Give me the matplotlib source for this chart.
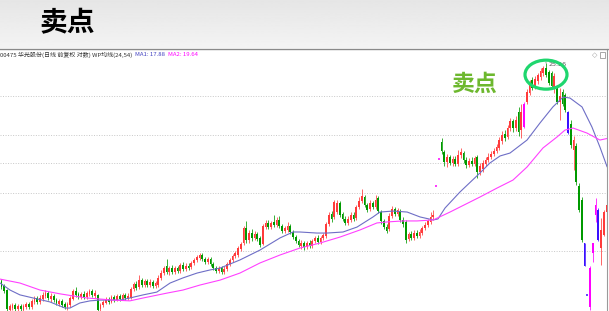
import numpy as np
import matplotlib
matplotlib.use('Agg')
import matplotlib.pyplot as plt
from matplotlib.patches import Ellipse, Rectangle

plt.rcParams['font.family'] = ['Noto Sans CJK SC', 'DejaVu Sans']

# daily OHLC (前复权), one value per trading day
opens = [
    12.21, 12.01, 11.85, 11.09, 11.16, 11.27, 11.13, 11.24, 11.09, 11.20,
    11.31, 11.20, 11.39, 11.54, 11.39, 11.50, 11.62, 11.73, 11.50, 11.62,
    11.46, 11.31, 11.43, 11.31, 11.20, 11.27, 11.50, 11.81, 11.70, 11.58,
    11.70, 11.58, 11.70, 11.81, 11.62, 11.66, 11.13, 11.27, 11.35, 11.50,
    11.39, 11.58, 11.46, 11.62, 11.50, 11.66, 11.54, 11.54, 11.89, 12.09,
    11.97, 12.25, 12.05, 12.21, 12.05, 12.17, 12.01, 12.05, 12.34, 12.54,
    12.84, 12.59, 12.75, 12.59, 12.75, 12.63, 12.88, 12.71, 12.84, 12.80,
    12.97, 13.10, 13.19, 13.32, 13.14, 13.01, 13.14, 12.93, 12.75, 12.63,
    12.75, 12.59, 12.71, 12.93, 13.10, 13.28, 13.32, 13.59, 13.86, 14.58,
    14.00, 14.33, 14.10, 14.29, 14.10, 13.82, 14.62, 14.82, 14.62, 14.87,
    14.72, 14.97, 14.67, 14.43, 14.48, 14.67, 14.38, 14.14, 13.95, 13.72,
    13.86, 13.68, 13.86, 13.72, 13.95, 14.10, 13.91, 14.10, 14.19, 14.77,
    15.27, 15.12, 15.37, 15.84, 15.27, 15.02, 14.82, 14.97, 15.22, 15.07,
    15.63, 15.95, 16.16, 15.74, 15.52, 15.84, 15.63, 16.11, 15.37, 14.92,
    14.62, 14.53, 15.17, 15.52, 15.27, 15.42, 14.97, 14.87, 14.05, 14.29,
    14.10, 14.33, 14.19, 14.33, 14.58, 14.72, 14.87, 15.12, 16.76, 18.34,
    19.41, 18.78, 18.16, 18.47, 18.10, 18.34, 18.04, 18.59, 18.71, 18.28,
    17.98, 18.22, 18.04, 18.47, 17.57, 17.74, 18.04, 18.28, 18.47, 18.65,
    18.84, 19.03, 19.48, 19.93, 19.74, 20.34, 20.82, 20.34, 21.45, 20.20,
    20.41, 22.18, 22.86, 23.87, 23.32, 23.79, 24.11, 24.43, 24.85, 24.52,
    24.43, 23.24, 23.24, 22.18, 22.93, 22.70, 21.45, 20.61, 18.90, 19.16,
    16.76, 16.00, 13.86, 11.66, 11.20, 13.41, 15.22, 15.47, 13.63, 14.24,
    15.37,
]
closes = [
    11.97, 11.81, 11.13, 11.24, 11.27, 11.13, 11.24, 11.13, 11.24, 11.31,
    11.20, 11.43, 11.54, 11.39, 11.54, 11.66, 11.73, 11.54, 11.62, 11.46,
    11.35, 11.43, 11.27, 11.20, 11.31, 11.54, 11.81, 11.66, 11.58, 11.70,
    11.58, 11.73, 11.81, 11.66, 11.73, 11.09, 11.27, 11.39, 11.50, 11.39,
    11.58, 11.46, 11.62, 11.50, 11.66, 11.54, 11.62, 11.89, 12.09, 11.93,
    12.25, 12.05, 12.21, 12.05, 12.17, 12.01, 12.13, 12.34, 12.54, 12.75,
    12.59, 12.75, 12.59, 12.75, 12.63, 12.88, 12.71, 12.84, 12.75, 12.97,
    13.10, 13.23, 13.32, 13.14, 13.01, 13.14, 12.93, 12.75, 12.63, 12.75,
    12.59, 12.71, 12.93, 13.10, 13.28, 13.41, 13.63, 13.82, 14.58, 14.00,
    14.33, 14.10, 14.29, 14.05, 13.77, 14.67, 14.82, 14.62, 14.82, 14.72,
    14.97, 14.67, 14.43, 14.58, 14.67, 14.38, 14.14, 13.95, 13.77, 13.86,
    13.68, 13.86, 13.72, 13.95, 14.10, 13.91, 14.10, 14.24, 14.77, 15.22,
    15.02, 15.90, 15.84, 15.22, 15.02, 14.82, 15.02, 15.22, 15.02, 15.63,
    15.95, 16.22, 15.74, 15.47, 15.84, 15.63, 16.00, 15.42, 14.92, 14.62,
    14.43, 15.17, 15.52, 15.27, 15.47, 14.97, 14.77, 14.00, 14.29, 14.10,
    14.33, 14.19, 14.38, 14.58, 14.72, 14.92, 15.12, 15.22, 16.76, 18.34,
    18.84, 18.16, 18.47, 18.10, 18.34, 18.04, 18.59, 18.78, 18.28, 17.98,
    18.22, 18.04, 18.40, 17.57, 17.92, 18.10, 18.28, 18.47, 18.65, 18.84,
    19.09, 19.54, 19.87, 19.67, 20.34, 20.82, 20.34, 20.89, 20.07, 21.45,
    22.03, 22.93, 23.55, 23.24, 23.95, 24.27, 24.60, 24.85, 24.27, 23.63,
    23.39, 24.19, 22.18, 22.63, 22.03, 21.60, 20.00, 19.22, 19.54, 16.99,
    15.47, 14.00, 12.84, 11.66, 12.75, 13.86, 15.74, 14.00, 14.48, 15.37,
    15.74,
]
highs = [
    12.29, 12.09, 11.89, 11.31, 11.35, 11.35, 11.31, 11.31, 11.31, 11.39,
    11.39, 11.50, 11.62, 11.62, 11.66, 11.77, 11.85, 11.81, 11.73, 11.70,
    11.54, 11.50, 11.50, 11.39, 11.39, 11.62, 11.89, 11.97, 11.77, 11.77,
    11.81, 11.81, 11.89, 11.89, 11.85, 11.70, 11.35, 11.46, 11.58, 11.58,
    11.66, 11.66, 11.70, 11.70, 11.73, 11.73, 11.73, 11.97, 12.17, 12.21,
    12.46, 12.34, 12.29, 12.29, 12.29, 12.25, 12.21, 12.46, 12.67, 12.84,
    13.14, 12.84, 12.88, 12.84, 12.84, 12.97, 13.01, 12.97, 12.97, 13.06,
    13.19, 13.32, 13.41, 13.41, 13.23, 13.23, 13.23, 13.01, 12.84, 12.84,
    12.84, 12.84, 13.01, 13.19, 13.36, 13.50, 13.72, 13.91, 14.67, 14.92,
    14.48, 14.53, 14.43, 14.38, 14.19, 14.77, 14.97, 14.97, 14.92, 15.22,
    15.12, 15.17, 14.77, 14.67, 14.87, 14.77, 14.48, 14.24, 14.05, 14.00,
    13.95, 13.95, 14.00, 14.05, 14.19, 14.24, 14.19, 14.33, 14.87, 15.37,
    15.42, 16.00, 16.00, 15.95, 15.37, 15.17, 15.17, 15.37, 15.37, 15.74,
    16.16, 16.60, 16.27, 15.84, 16.00, 15.95, 16.27, 16.22, 15.47, 15.02,
    14.77, 15.32, 15.69, 15.63, 15.58, 15.52, 15.12, 14.97, 14.38, 14.43,
    14.48, 14.48, 14.53, 14.67, 14.87, 15.02, 15.37, 15.47, 16.76, 18.34,
    19.67, 18.90, 18.65, 18.59, 18.53, 18.53, 18.90, 19.03, 18.84, 18.47,
    18.40, 18.47, 18.53, 18.59, 18.10, 18.28, 18.47, 18.71, 18.84, 19.03,
    19.28, 19.74, 20.13, 20.20, 20.54, 21.03, 20.96, 21.17, 21.82, 22.03,
    22.18, 23.17, 23.87, 24.11, 24.19, 24.43, 24.85, 25.01, 25.26, 24.68,
    24.60, 24.43, 23.39, 23.24, 23.17, 22.86, 21.53, 20.89, 19.80, 19.35,
    16.93, 16.16, 13.86, 11.66, 12.84, 13.86, 16.11, 15.58, 15.07, 15.47,
    15.84,
]
lows = [
    11.89, 11.73, 11.02, 11.02, 11.09, 11.05, 11.02, 11.02, 11.02, 11.13,
    11.13, 11.13, 11.31, 11.31, 11.31, 11.43, 11.54, 11.46, 11.39, 11.39,
    11.27, 11.24, 11.20, 11.13, 11.09, 11.20, 11.46, 11.58, 11.50, 11.50,
    11.50, 11.50, 11.62, 11.58, 11.54, 11.02, 11.05, 11.20, 11.31, 11.31,
    11.35, 11.39, 11.43, 11.43, 11.46, 11.46, 11.46, 11.50, 11.81, 11.85,
    11.89, 11.97, 11.97, 11.97, 11.97, 11.93, 11.93, 11.97, 12.25, 12.46,
    12.50, 12.46, 12.50, 12.50, 12.54, 12.54, 12.63, 12.63, 12.67, 12.71,
    12.88, 13.01, 13.10, 13.06, 12.93, 12.93, 12.84, 12.67, 12.54, 12.54,
    12.50, 12.50, 12.63, 12.84, 13.01, 13.19, 13.23, 13.50, 13.77, 13.86,
    13.86, 13.95, 14.00, 13.95, 13.68, 13.77, 14.53, 14.53, 14.53, 14.62,
    14.62, 14.58, 14.33, 14.33, 14.38, 14.29, 14.05, 13.86, 13.68, 13.59,
    13.54, 13.59, 13.63, 13.63, 13.86, 13.82, 13.82, 14.00, 14.10, 14.67,
    14.87, 15.02, 15.27, 15.12, 14.92, 14.72, 14.72, 14.87, 14.92, 14.97,
    15.52, 15.84, 15.63, 15.37, 15.42, 15.52, 15.52, 15.32, 14.77, 14.53,
    14.33, 14.43, 15.07, 15.17, 15.17, 14.87, 14.62, 13.86, 13.95, 14.00,
    14.00, 14.10, 14.10, 14.24, 14.48, 14.62, 14.77, 14.97, 16.76, 18.34,
    18.65, 17.92, 17.86, 17.98, 17.92, 17.92, 17.92, 18.40, 18.10, 17.80,
    17.86, 17.92, 17.92, 17.22, 17.39, 17.57, 17.92, 18.16, 18.34, 18.53,
    18.71, 18.90, 19.28, 19.48, 19.61, 20.13, 20.07, 20.13, 19.80, 19.67,
    20.34, 22.03, 22.70, 23.09, 23.17, 23.55, 23.87, 24.19, 24.11, 23.47,
    23.24, 22.86, 22.03, 20.89, 21.89, 21.45, 19.93, 19.03, 17.68, 16.82,
    15.37, 13.91, 12.84, 11.66, 11.09, 13.01, 14.87, 13.95, 12.88, 14.19,
    15.27,
]
# days the formula paints magenta (strong up) / blue (strong down)
magenta_days = [158, 159, 190, 214, 215, 216]
blue_days = [206, 212, 213, 217]

# WP均线(24,54): sampled along the lines (day position, price)
ma1_x = [-0.5, 3.1, 6.7, 11.5, 17.6, 23.1, 24.9, 28.5, 32.2, 35.8, 43.1, 46.7,
         51.5, 56.5, 61.3, 66.0, 71.1, 75.8, 79.5, 86.7, 94.0, 101.3, 106.0,
         108.5, 114.7, 118.4, 124.2, 129.3, 135.1, 137.6, 142.4, 147.5, 152.2,
         157.0, 158.7, 161.3, 166.7, 174.0, 177.6, 181.3, 184.9, 191.1, 195.8,
         200.5, 204.2, 206.7, 211.1, 214.7, 217.6, 220.2]
ma1_y = [12.13, 11.85, 11.66, 11.54, 11.39, 11.16, 11.16, 11.35, 11.43, 11.46,
         11.46, 11.54, 11.66, 11.77, 12.13, 12.34, 12.54, 12.67, 12.75, 13.10,
         13.54, 14.10, 14.38, 14.38, 14.33, 14.33, 14.38, 14.62, 15.12, 15.37,
         15.42, 15.37, 15.12, 14.97, 15.02, 15.58, 16.43, 17.51, 18.10, 18.53,
         18.71, 19.54, 20.68, 21.82, 22.55, 22.48, 21.82, 20.41, 19.09, 17.88]
ma2_x = [-0.5, 6.7, 14.0, 21.3, 26.0, 31.1, 35.8, 40.5, 46.7, 51.5, 60.2, 66.0,
         72.2, 79.5, 86.7, 94.0, 101.3, 108.5, 115.8, 123.1, 130.4, 136.5,
         140.2, 146.0, 151.1, 157.0, 163.1, 174.0, 180.2, 186.0, 191.1, 196.9,
         202.0, 204.9, 207.8, 212.9, 217.6, 220.2]
ma2_y = [12.29, 12.13, 11.85, 11.70, 11.62, 11.54, 11.50, 11.46, 11.43, 11.54,
         11.73, 11.85, 12.05, 12.25, 12.54, 12.97, 13.32, 13.63, 13.86, 14.14,
         14.48, 14.82, 14.87, 14.92, 14.92, 14.97, 15.37, 16.16, 16.65, 17.10,
         17.86, 19.03, 19.74, 20.20, 20.34, 20.00, 19.54, 19.64]

grid_prices = [22.63, 19.87, 18.10, 16.38, 13.50]
peak_day = 198
peak_price = 25.26

header = '00475 华光股份(日线 前复权 对数) WP均线(24,54)'
ma1_label = 'MA1: 17.88'
ma2_label = 'MA2: 19.64'

UP = '#FF3B3B'
DOWN = '#009A00'
MAG = '#FF00FF'
BLUE = '#3A10FF'

W, H = 609, 311
fig = plt.figure(figsize=(W / 100, H / 100), dpi=100)

# grey banner at the top
band = fig.add_axes([0, 1 - 48 / H, 1, 48 / H])
grad = np.linspace(0.90, 0.955, 64)[:, None]
band.imshow(grad, cmap='gray', vmin=0, vmax=1, aspect='auto',
            extent=[0, 1, 0, 1])
band.set_axis_off()
fig.text(40 / W, 1 - 23 / H, '卖点', fontsize=20, color='black',
         fontweight='bold', va='center', ha='left')
fig.add_artist(plt.Line2D([0, 1], [1 - 48.5 / H, 1 - 48.5 / H],
                          color='#8A8A8A', lw=1.0))

# price panel
ax = fig.add_axes([0, 0, 607 / W, (H - 49) / H])
ax.set_yscale('log')
ax.set_xlim(-0.545, 220.18)
ax.set_ylim(11.05, 26.47)
ax.set_xticks([])
ax.set_yticks([])
ax.minorticks_off()
for s in ['left', 'top', 'bottom']:
    ax.spines[s].set_visible(False)
ax.spines['right'].set_color('#9A9A9A')
ax.spines['right'].set_linewidth(0.8)

for p in grid_prices:
    ax.axhline(p, color='#C8C8C8', lw=0.7, ls=(0, (1, 1.6)), zorder=1)

n = len(closes)
assert len(opens) == n and len(highs) == n and len(lows) == n
for i in range(n):
    o, c, h, l = opens[i], closes[i], highs[i], lows[i]
    if i in magenta_days:
        col = MAG
    elif i in blue_days:
        col = BLUE
    elif c >= o:
        col = UP
    else:
        col = DOWN
    if h == l:
        ax.hlines(c, i - 0.45, i + 0.45, color=col, lw=1.1, zorder=3)
        continue
    ax.vlines(i, l, h, color=col, lw=0.55, zorder=2)
    ax.bar(i, max(abs(c - o), 0.01), bottom=min(o, c), width=0.62,
           color=col, linewidth=0, zorder=3)

ax.plot(ma1_x, ma1_y, color='#6E6EC6', lw=0.8, zorder=4)
ax.plot(ma2_x, ma2_y, color='#FF40FF', lw=0.8, zorder=4)

# peak marker and label
ax.annotate('', xy=(peak_day, peak_price), xytext=(peak_day, peak_price * 1.012),
            arrowprops=dict(arrowstyle='-', color='#808080', lw=0.6))
ax.annotate(f'{peak_price:.2f}', xy=(peak_day, peak_price),
            xytext=(2, -1), textcoords='offset points', fontsize=4.6,
            color='#555555', ha='left', va='center', family='DejaVu Sans')

# sell point circle around the top
ell = Ellipse((peak_day, 24.3), width=15.2, height=0.0, fill=False)
cx, cy = ax.transAxes.inverted().transform(ax.transData.transform((peak_day, 24.3)))
ell = Ellipse((cx, cy), width=42 / 607, height=29 / (H - 49), fill=False,
              edgecolor='#1FD66E', lw=2.3, transform=ax.transAxes, zorder=6)
ax.add_patch(ell)
ax.text(163.8, 23.5, '卖点', fontsize=16.5, fontweight='bold', color='#6DB82E',
        ha='left', va='center', zorder=6)

# info line
ty = 1 - 54.5 / H
fig.text(0, ty, header, fontsize=4.3, color='#333333', va='center', ha='left')
fig.text(135 / W, ty, ma1_label, fontsize=4.3, color='#4040C0', va='center')
fig.text(168 / W, ty, ma2_label, fontsize=4.3, color='#FF00FF', va='center')
fig.text(592 / W, 1 - 55 / H, '◇', fontsize=5, color='#999999', va='center',
         family='DejaVu Sans')
fig.add_artist(Rectangle((600 / W, 1 - 58 / H), 5 / W, 6 / H, fill=False,
                         edgecolor='#999999', lw=0.6))

fig.savefig('out.png', dpi=100)
